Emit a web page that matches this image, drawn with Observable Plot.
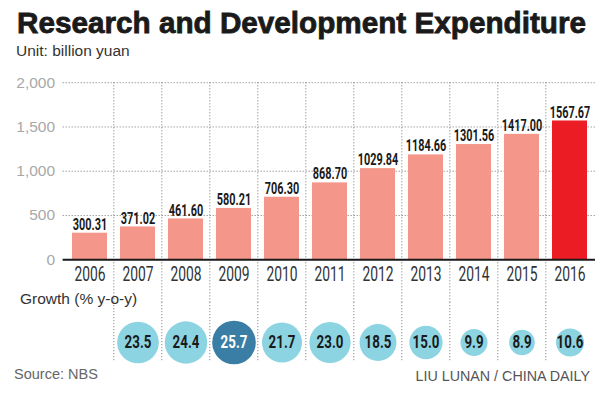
<!DOCTYPE html>
<html>
<head>
<meta charset="utf-8">
<script src="https://cdn.jsdelivr.net/npm/d3@7"></script>
<script src="https://cdn.jsdelivr.net/npm/@observablehq/plot@0.6"></script>
<style>
  html, body { margin: 0; padding: 0; background: #fff; }
  #wrap { position: relative; width: 600px; height: 397px; overflow: hidden; background: #fff; }
  #wrap > * { position: absolute; left: 0; }
  #overlay { top: 0; pointer-events: none; }
</style>
</head>
<body>
<div id="wrap"></div>
<script>
// ---- data ----
const years = ["2006","2007","2008","2009","2010","2011","2012","2013","2014","2015","2016"];
const spending = [300.31, 371.02, 461.60, 580.21, 706.30, 868.70, 1029.84, 1184.66, 1301.56, 1417.00, 1567.67];
const growthYears = ["2007","2008","2009","2010","2011","2012","2013","2014","2015","2016"];
const growth = [23.5, 24.4, 25.7, 21.7, 23.0, 18.5, 15.0, 9.9, 8.9, 10.6];
const yTicks = [0, 500, 1000, 1500, 2000];
const highlightYear = "2016";

// ---- styles ----
const cond = "Roboto, 'Liberation Sans', sans-serif";
const regular = "'Liberation Sans', Arial, sans-serif";
const salmon = "#f4978a", red = "#ec1c24";
const lightBlue = "#8dd4e2", darkBlue = "#3a7ea5";
const gridStroke = "#8c8c8c", gridDash = "1.2,1.8";

const W = 600, mL = 62.6, mR = 5;
const step = (W - mL - mR) / years.length;
const xScale = {type: "band", domain: years, paddingInner: 0.28, paddingOuter: 0.14, axis: null};

const bars = years.map((year, i) => ({year, value: spending[i]}));
const circles = growthYears.map((year, i) => ({year, g: growth[i]}));
const maxG = d3.max(growth);

const wrap = document.getElementById("wrap");

// horizontally condense the glyphs of a text mark (no condensed font installed)
function condense(root, index, sx) {
  const groups = root.querySelectorAll('g[aria-label="text"]');
  groups[index].querySelectorAll("text").forEach(el => {
    let t = el.getAttribute("transform");
    if (!t) {
      const x = el.getAttribute("x") || 0, y = el.getAttribute("y") || 0;
      el.removeAttribute("x"); el.removeAttribute("y");
      t = `translate(${x},${y})`;
    }
    el.setAttribute("transform", `${t} scale(${sx},1)`);
  });
}

// ---- bar chart ----
const barsPlot = Plot.plot({
  width: W, height: 232,
  marginTop: 12.2, marginBottom: 0, marginLeft: mL, marginRight: mR,
  x: xScale,
  y: {domain: [0, 2000], range: [189.3, 12.2], axis: null},
  style: {background: "transparent", fontFamily: cond, overflow: "visible"},
  marks: [
    Plot.ruleY(yTicks.filter(d => d > 0), {stroke: gridStroke, strokeDasharray: gridDash}),
    Plot.ruleX(years.slice(1), {x: d => d, dx: -step / 2, stroke: gridStroke, strokeDasharray: gridDash}),
    Plot.barY(bars, {x: "year", y: "value", fill: d => d.year === highlightYear ? red : salmon}),
    Plot.ruleY([0], {stroke: "#1a1a1a", strokeWidth: 2}),
    Plot.axisY(yTicks, {tickSize: 0, tickPadding: 8, fontSize: 15.5, fill: "#a8a8a8",
      fontFamily: regular, label: null, tickFormat: d3.format(",")}),
    Plot.text(bars, {x: "year", y: "value", text: d => d3.format(".2f")(d.value),
      dy: -3.4, lineAnchor: "bottom", fontWeight: "bold", fontSize: 17, fill: "#1a1a1a"}),
    Plot.text(years, {x: d => d, y: 0, text: d => d, lineAnchor: "middle", dy: 15,
      fontSize: 19.5, fill: "#333"})
  ]
});
condense(barsPlot, 0, 0.64);
condense(barsPlot, 1, 0.71);
barsPlot.style.top = "70px";
wrap.appendChild(barsPlot);

// ---- growth circles ----
const circlePlot = Plot.plot({
  width: W, height: 60,
  marginTop: 0, marginBottom: 0, marginLeft: mL, marginRight: mR,
  x: xScale,
  r: {type: "sqrt", domain: [0, maxG], range: [0, 21.8]},
  style: {background: "transparent", fontFamily: cond, overflow: "visible"},
  marks: [
    Plot.ruleX(years.slice(1), {x: d => d, dx: -step / 2, stroke: gridStroke, strokeDasharray: gridDash}),
    Plot.dot(circles, {x: "year", r: "g", dy: 10, fill: d => d.g === maxG ? darkBlue : lightBlue, stroke: null}),
    Plot.text(circles, {x: "year", text: d => d.g.toFixed(1), dy: 10, fontWeight: "bold",
      fontSize: 18.5, fill: d => d.g === maxG ? "#fff" : "#1a1a1a"})
  ]
});
condense(circlePlot, 0, 0.72);
circlePlot.style.top = "302px";
wrap.appendChild(circlePlot);

// ---- titles & notes ----
const ns = "http://www.w3.org/2000/svg";
const svg = document.createElementNS(ns, "svg");
svg.setAttribute("id", "overlay");
svg.setAttribute("width", W);
svg.setAttribute("height", 397);
function addText(str, attrs) {
  const t = document.createElementNS(ns, "text");
  for (const k in attrs) t.setAttribute(k, attrs[k]);
  t.textContent = str;
  svg.appendChild(t);
}
addText("Research and Development Expenditure", {x: 17, y: 32.5, "font-family": regular,
  "font-weight": "bold", "font-size": 29.5, fill: "#1a1a1a", stroke: "#1a1a1a", "stroke-width": 0.8,
  textLength: 569, lengthAdjust: "spacingAndGlyphs"});
addText("Unit: billion yuan", {x: 16, y: 56, "font-family": regular, "font-size": 15.5, fill: "#333"});
addText("Growth (% y-o-y)", {x: 20, y: 304, "font-family": regular, "font-size": 15.5, fill: "#333"});
addText("Source: NBS", {x: 14, y: 379, "font-family": regular, "font-size": 14.5, fill: "#666"});
addText("LIU LUNAN / CHINA DAILY", {x: 590, y: 381, "font-family": regular, "font-size": 14.3,
  fill: "#555", "text-anchor": "end"});
wrap.appendChild(svg);
</script>
</body>
</html>
